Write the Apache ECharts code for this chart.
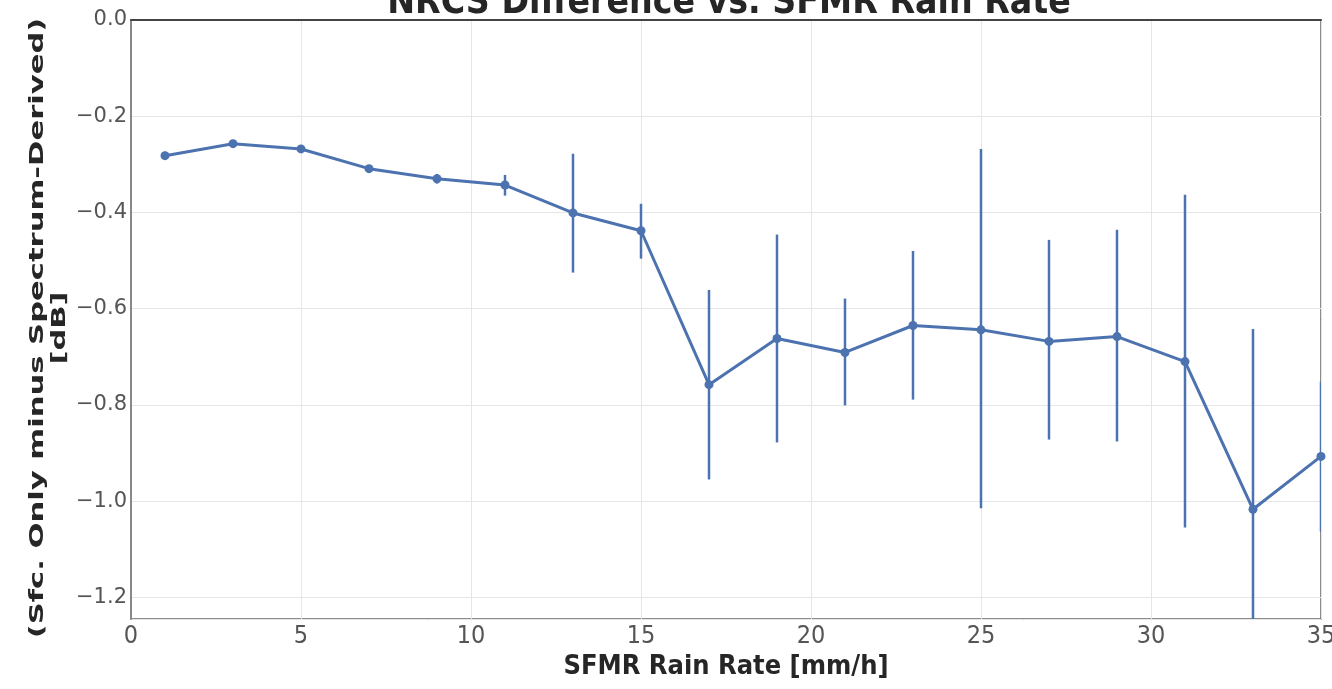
<!DOCTYPE html>
<html>
<head>
    <meta charset="utf-8">
    <title>NRCS Difference vs. SFMR Rain Rate</title>
    <script src="https://cdn.jsdelivr.net/npm/echarts@6/dist/echarts.min.js"></script>
    <style>
        html, body { margin: 0; padding: 0; background: #fff; }
    </style>
</head>
<body>
    <div id="main" style="width: 1332px;height:689px;"></div>
    <script type="text/javascript">
        // rain-rate bin centres (mm/h)
        var rainRate = [1, 3, 5, 7, 9, 11, 13, 15, 17, 19, 21, 23, 25, 27, 29, 31, 33, 35];
        // mean NRCS difference (dB)
        var meanDiff = [-0.282, -0.257, -0.268, -0.309, -0.330, -0.343, -0.401, -0.438, -0.758,
            -0.662, -0.691, -0.635, -0.644, -0.668, -0.658, -0.710, -1.017, -0.907];
        // error bar ends
        var errUpper = [-0.274, -0.250, -0.261, -0.302, -0.320, -0.322, -0.278, -0.382, -0.561,
            -0.446, -0.579, -0.480, -0.268, -0.457, -0.436, -0.363, -0.642, -0.752];
        var errLower = [-0.290, -0.264, -0.275, -0.316, -0.340, -0.365, -0.525, -0.496, -0.955,
            -0.878, -0.801, -0.789, -1.015, -0.872, -0.876, -1.055, -1.390, -1.063];

        var blue = '#4c72b0';

        var lineData = rainRate.map(function (x, i) { return [x, meanDiff[i]]; });
        var errData = rainRate.map(function (x, i) { return [x, errLower[i], errUpper[i]]; });

        var myChart = echarts.init(document.getElementById('main'));

        var option = {
            animation: false,
            backgroundColor: '#fff',
            title: {
                text: 'NRCS Difference vs. SFMR Rain Rate',
                left: 724,
                textAlign: 'center',
                top: -20,
                textStyle: {
                    fontFamily: 'DejaVu Sans Condensed',
                    fontWeight: 'bold',
                    fontSize: 37,
                    color: '#262626'
                }
            },
            // y axis title, stretched along its length like the original
            graphic: [{
                type: 'text',
                x: 49,
                y: 328,
                rotation: Math.PI / 2,
                scaleX: 1.53,
                style: {
                    text: '(Sfc. Only minus Spectrum-Derived)\n[dB]',
                    align: 'center',
                    verticalAlign: 'middle',
                    font: 'bold 20px "DejaVu Sans"',
                    lineHeight: 22,
                    fill: '#262626'
                }
            }],
            grid: {
                left: 131,
                right: 11,
                top: 20,
                bottom: 70,
                outerBoundsMode: 'none',
                show: true,
                borderColor: '#666',
                borderWidth: 1.5
            },
            xAxis: {
                type: 'value',
                min: 0,
                max: 35,
                interval: 5,
                name: 'SFMR Rain Rate [mm/h]',
                nameLocation: 'middle',
                nameGap: 34,
                nameTextStyle: {
                    fontFamily: 'DejaVu Sans Condensed',
                    fontWeight: 'bold',
                    fontSize: 27,
                    color: '#262626'
                },
                axisLine: { lineStyle: { color: '#444', width: 2 } },
                axisTick: { show: false },
                axisLabel: {
                    margin: 5,
                    fontFamily: 'DejaVu Sans Condensed',
                    fontSize: 25,
                    color: '#555'
                },
                splitLine: { lineStyle: { color: '#e6e6e6', width: 1 } }
            },
            yAxis: {
                type: 'value',
                min: -1.245,
                max: 0,
                splitNumber: 6,
                axisLine: { show: true, lineStyle: { color: '#888', width: 2 } },
                axisTick: { show: false },
                axisLabel: {
                    margin: 4,
                    showMinLabel: false,
                    fontFamily: 'DejaVu Sans',
                    fontSize: 21,
                    color: '#555',
                    formatter: function (v) {
                        var s = Math.abs(v).toFixed(1);
                        return v < -1e-9 ? '\u2212' + s : s;
                    }
                },
                splitLine: { lineStyle: { color: '#e6e6e6', width: 1 } }
            },
            series: [{
                name: 'error',
                type: 'custom',
                clip: true,
                z: 2,
                data: errData,
                renderItem: function (params, api) {
                    var p1 = api.coord([api.value(0), api.value(1)]);
                    var p2 = api.coord([api.value(0), api.value(2)]);
                    return {
                        type: 'line',
                        shape: { x1: p1[0], y1: p1[1], x2: p2[0], y2: p2[1] },
                        style: { stroke: blue, lineWidth: 2.5 }
                    };
                }
            }, {
                name: 'mean',
                type: 'line',
                z: 3,
                data: lineData,
                symbol: 'circle',
                symbolSize: 9,
                clip: true,
                itemStyle: { color: blue },
                lineStyle: { color: blue, width: 3 }
            }]
        };

        myChart.setOption(option);
    </script>
</body>
</html>
